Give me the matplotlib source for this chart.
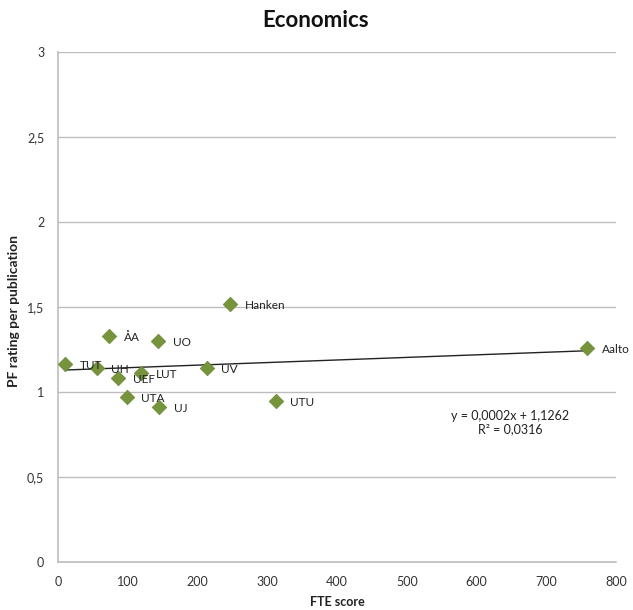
import numpy as np
import matplotlib
matplotlib.use('Agg')
import matplotlib.pyplot as plt

plt.rcParams['font.family'] = ['Lato', 'DejaVu Sans']

# Data
labels = ['TUT', 'UH', 'ÅA', 'UEF', 'UTA', 'LUT', 'UO', 'UJ', 'UV', 'Hanken', 'UTU', 'Aalto']
fte_score = [10, 55, 73, 86, 98, 119, 143, 145, 213, 247, 312, 759]
pf_rating = [1.163, 1.140, 1.332, 1.081, 0.972, 1.114, 1.301, 0.910, 1.140, 1.519, 0.949, 1.259]
equation_text = 'y = 0,0002x + 1,1262\nR² = 0,0316'

x_ticks = [0, 100, 200, 300, 400, 500, 600, 700, 800]
y_ticks = [0, 0.5, 1, 1.5, 2, 2.5, 3]
y_tick_labels = ['0', '0,5', '1', '1,5', '2', '2,5', '3']

fig = plt.figure(figsize=(6.33, 6.10), dpi=100)
ax = fig.add_axes([0.092, 0.079, 0.881, 0.835])

ax.set_xlim(0, 800)
ax.set_ylim(0, 3)
ax.set_xticks(x_ticks)
ax.set_xticklabels([str(t) for t in x_ticks])
ax.set_yticks(y_ticks)
ax.set_yticklabels(y_tick_labels)
ax.tick_params(axis='both', length=0, labelsize=9, colors='#333333', pad=10)

ax.grid(axis='y', color='#bdbdbd', linewidth=1)
ax.set_axisbelow(True)
for side in ['top', 'right']:
    ax.spines[side].set_visible(False)
for side in ['left', 'bottom']:
    ax.spines[side].set_color('#bdbdbd')
    ax.spines[side].set_linewidth(1.2)

# linear trendline
coef = np.polyfit(fte_score, pf_rating, 1)
xs = np.array([min(fte_score), max(fte_score)])
ax.plot(xs, np.polyval(coef, xs), color='#222222', linewidth=1, zorder=2)

ax.scatter(fte_score, pf_rating, marker='D', s=55, color='#77933c',
           edgecolors='#6a8a36', linewidths=0.5, zorder=3)

for name, x, y in zip(labels, fte_score, pf_rating):
    ax.annotate(name, (x, y), xytext=(10.5, -1), textcoords='offset points',
                ha='left', va='center', fontsize=8.5, color='#222222', zorder=4)

ax.text(648, 0.82, equation_text, ha='center', va='center', fontsize=9,
        color='#222222', linespacing=1.2)

fig.text(0.498, 0.967, 'Economics', ha='center', va='center',
         fontsize=16, fontweight='bold', color='#111111')
fig.text(0.533, 0.0126, 'FTE score', ha='center', va='center',
         fontsize=9, fontweight='bold', color='#222222')
fig.text(0.022, 0.49, 'PF rating per publication', ha='center', va='center',
         rotation=90, fontsize=10, fontweight='bold', color='#222222')

fig.savefig('out.png', dpi=100)
